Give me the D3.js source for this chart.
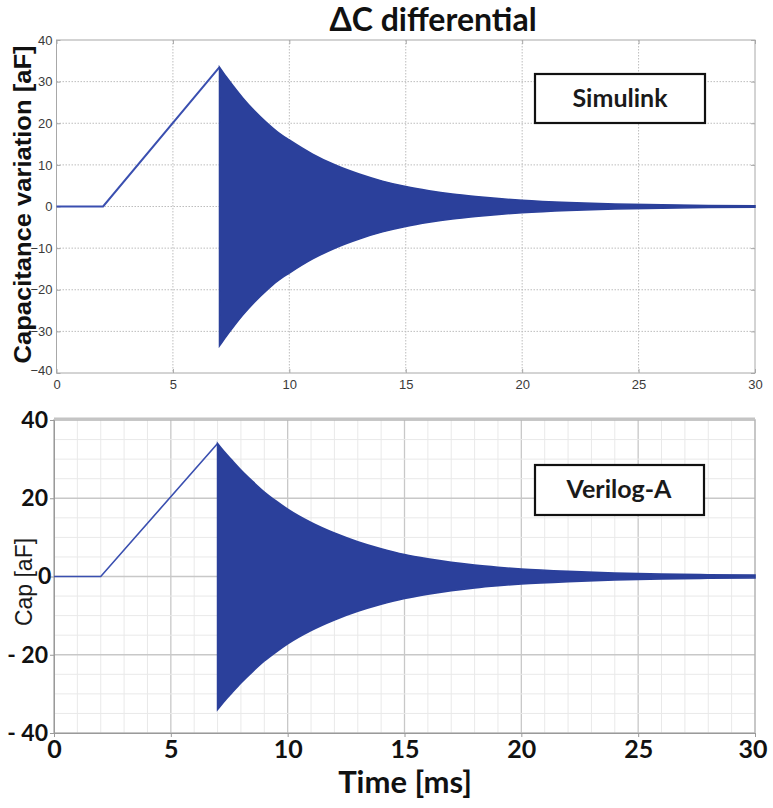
<!DOCTYPE html>
<html>
<head>
<meta charset="utf-8">
<script src="https://cdn.jsdelivr.net/npm/d3@7"></script>
<style>
  body { margin: 0; background: #fff; }
  svg { display: block; }
</style>
</head>
<body>
<div id="chart"></div>
<script>
const colors = { "wave": "#2b409b", "ramp": "#3a4fb0", "grid": "#c8c8c8", "minor": "#e9e9e9", "frame": "#a8a8a8" }

let width = 773, height = 808;

// time axis ticks
const xTicks = [0, 5, 10, 15, 20, 25, 30];
const yTicksTop = [-40, -30, -20, -10, 0, 10, 20, 30, 40];
const yTicksBot = [-40, -20, 0, 20, 40];
const yLabelsBot = ["- 40", "- 20", "0", "20", "40"];

// ramp before the release (ms, aF)
const rampT = [0, 2, 7];
const rampTop = [0, 0, 33.5];
const rampBot = [0, 0, 34];

// oscillation envelope after release
const envT = [7, 7.3, 7.6, 8, 8.5, 9, 9.5, 10, 11, 12, 13, 14, 15, 16, 17, 18, 19, 20, 22, 24, 26, 28, 30];
const envTop = [33.5, 31.1, 28.9, 26.1, 23.0, 20.3, 17.9, 16.0, 12.6, 9.9, 7.8, 6.1, 4.8, 3.8, 3.0, 2.4, 1.9, 1.5, 0.95, 0.6, 0.4, 0.27, 0.2];
const envBot = [34, 31.8, 29.8, 27.2, 24.3, 21.6, 19.3, 17.2, 13.8, 11.1, 8.9, 7.1, 5.6, 4.5, 3.6, 2.9, 2.35, 1.9, 1.3, 0.9, 0.6, 0.45, 0.35];

const svg = d3.select("#chart").append("svg")
    .attr("width", width).attr("height", height);

// title
svg.append("text")
    .attr("x", 433).attr("y", 31)
    .attr("text-anchor", "middle")
    .style("font", "bold 32px Lato")
    .attr("fill", "#111")
    .text("ΔC differential");

// ---------- top panel (Simulink) ----------
const xt = d3.scaleLinear().domain([0, 30]).range([56.5, 755]);
const yt = d3.scaleLinear().domain([-40, 40]).range([373, 40]);

let gTop = svg.append("g").attr("class", "top");

gTop.append("g").selectAll("line").data(xTicks.slice(1, -1)).enter().append("line")
    .attr("x1", d => xt(d)).attr("x2", d => xt(d))
    .attr("y1", yt(40)).attr("y2", yt(-40))
    .attr("stroke", "#bdbdbd").attr("stroke-dasharray", "1.5,1.5");
gTop.append("g").selectAll("line").data(yTicksTop.slice(1, -1)).enter().append("line")
    .attr("x1", xt(0)).attr("x2", xt(30))
    .attr("y1", d => yt(d)).attr("y2", d => yt(d))
    .attr("stroke", "#bdbdbd").attr("stroke-dasharray", "1.5,1.5");

gTop.append("rect")
    .attr("x", xt(0)).attr("y", yt(40))
    .attr("width", xt(30) - xt(0)).attr("height", yt(-40) - yt(40))
    .attr("fill", "none").attr("stroke", colors.frame).attr("stroke-width", 1);

let axTopX = gTop.append("g").attr("transform", `translate(0,${yt(-40)})`)
    .call(d3.axisBottom(xt).tickValues(xTicks).tickSize(-4).tickPadding(7));
let axTopY = gTop.append("g").attr("transform", `translate(${xt(0)},0)`)
    .call(d3.axisLeft(yt).tickValues(yTicksTop).tickSize(-4).tickPadding(4));
gTop.append("g").attr("transform", `translate(${xt(30)},0)`)
    .call(d3.axisRight(yt).tickValues(yTicksTop).tickSize(-4).tickFormat(""));
gTop.append("g").attr("transform", `translate(0,${yt(40)})`)
    .call(d3.axisTop(xt).tickValues(xTicks).tickSize(-4).tickFormat(""));
gTop.selectAll(".domain").remove();
gTop.selectAll(".tick line").attr("stroke", colors.frame);
[axTopX, axTopY].forEach(a => a.selectAll("text")
    .style("font", "13px 'Liberation Sans'").attr("fill", "#3a3a3a"));
axTopY.selectAll(".tick text").filter(d => d === -40).attr("dy", "0.1em");

const area = (xs, ys, env) => d3.area()
    .x((d, i) => xs(envT[i]))
    .y0((d, i) => ys(-env[i]))
    .y1((d, i) => ys(env[i]))
    .curve(d3.curveMonotoneX);
const ramp = (xs, ys, vals) => d3.line()
    .x((d, i) => xs(rampT[i]))
    .y((d, i) => ys(vals[i]));

gTop.append("path").datum(rampTop)
    .attr("d", ramp(xt, yt, rampTop))
    .attr("fill", "none").attr("stroke", colors.ramp).attr("stroke-width", 2);
gTop.append("path").datum(envTop)
    .attr("d", area(xt, yt, envTop))
    .attr("fill", colors.wave).attr("stroke", colors.wave).attr("stroke-width", 1.5);

gTop.append("text")
    .attr("transform", `translate(31,${(yt(40) + yt(-40)) / 2 - 2}) rotate(-90)`)
    .attr("text-anchor", "middle")
    .attr("textLength", 318).attr("lengthAdjust", "spacingAndGlyphs")
    .style("font", "bold 24px 'Liberation Sans'").attr("fill", "#111")
    .text("Capacitance variation [aF]");

// legend box
gTop.append("rect").attr("x", 535).attr("y", 74).attr("width", 170).attr("height", 49)
    .attr("fill", "#fff").attr("stroke", "#111").attr("stroke-width", 2.2);
gTop.append("text").attr("x", 620).attr("y", 107)
    .attr("text-anchor", "middle").style("font", "bold 25px Lato").attr("fill", "#1a1a1a")
    .text("Simulink");

// ---------- bottom panel (Verilog-A) ----------
const xb = d3.scaleLinear().domain([0, 30]).range([54, 755]);
const yb = d3.scaleLinear().domain([-40, 40]).range([733, 420]);

let gBot = svg.append("g").attr("class", "bottom");

gBot.append("g").selectAll("line").data(d3.range(1, 30)).enter().append("line")
    .attr("x1", d => xb(d)).attr("x2", d => xb(d))
    .attr("y1", yb(40)).attr("y2", yb(-40))
    .attr("stroke", d => d % 5 === 0 ? colors.grid : colors.minor).attr("stroke-width", d => d % 5 === 0 ? 1.3 : 1);
gBot.append("g").selectAll("line").data(d3.range(-35, 40, 5)).enter().append("line")
    .attr("x1", xb(0)).attr("x2", xb(30))
    .attr("y1", d => yb(d)).attr("y2", d => yb(d))
    .attr("stroke", d => d % 20 === 0 ? colors.grid : colors.minor).attr("stroke-width", d => d % 20 === 0 ? 1.3 : 1);

gBot.append("rect")
    .attr("x", xb(0)).attr("y", yb(40))
    .attr("width", xb(30) - xb(0)).attr("height", yb(-40) - yb(40))
    .attr("fill", "none").attr("stroke", "#b5b5b5").attr("stroke-width", 1.5);
gBot.append("line")
    .attr("x1", xb(0)).attr("x2", xb(30)).attr("y1", yb(40) - 1.5).attr("y2", yb(40) - 1.5)
    .attr("stroke", "#c4c4c4").attr("stroke-width", 2);

let axBotX = gBot.append("g").attr("transform", `translate(0,${yb(-40)})`)
    .call(d3.axisBottom(xb).tickValues(xTicks).tickSize(4).tickPadding(3));
let axBotY = gBot.append("g").attr("transform", `translate(${xb(0)},0)`)
    .call(d3.axisLeft(yb).tickValues(yTicksBot).tickSize(4).tickPadding(2)
        .tickFormat((d, i) => yLabelsBot[i]));
gBot.selectAll(".domain").attr("stroke", "#9a9a9a");
gBot.selectAll(".tick line").attr("stroke", "#9a9a9a");
axBotX.selectAll("text").style("font", "bold 25px Lato").attr("fill", "#111");
axBotY.selectAll("text").style("font", "bold 23px Lato").attr("fill", "#111");
axBotX.selectAll("text").filter(d => d === 30).attr("dx", "-0.1em");
axBotY.selectAll("text").filter(d => d === 0).attr("dx", "0.15em");

gBot.append("path").datum(rampBot)
    .attr("d", ramp(xb, yb, rampBot))
    .attr("fill", "none").attr("stroke", colors.ramp).attr("stroke-width", 1.6);
gBot.append("path").datum(envBot)
    .attr("d", area(xb, yb, envBot))
    .attr("fill", colors.wave).attr("stroke", colors.wave).attr("stroke-width", 1.6);

gBot.append("text")
    .attr("transform", `translate(32,582) rotate(-90)`)
    .attr("text-anchor", "middle")
    .style("font", "23px 'Liberation Sans'").attr("fill", "#1a1a1a")
    .text("Cap [aF]");

gBot.append("rect").attr("x", 535).attr("y", 465).attr("width", 169).attr("height", 50)
    .attr("fill", "#fff").attr("stroke", "#111").attr("stroke-width", 2.2);
gBot.append("text").attr("x", 619).attr("y", 498)
    .attr("text-anchor", "middle").style("font", "bold 25px Lato").attr("fill", "#1a1a1a")
    .text("Verilog-A");

svg.append("text")
    .attr("x", 405).attr("y", 793)
    .attr("text-anchor", "middle")
    .style("font", "bold 31px Lato").attr("fill", "#111")
    .text("Time [ms]");
</script>
</body>
</html>
